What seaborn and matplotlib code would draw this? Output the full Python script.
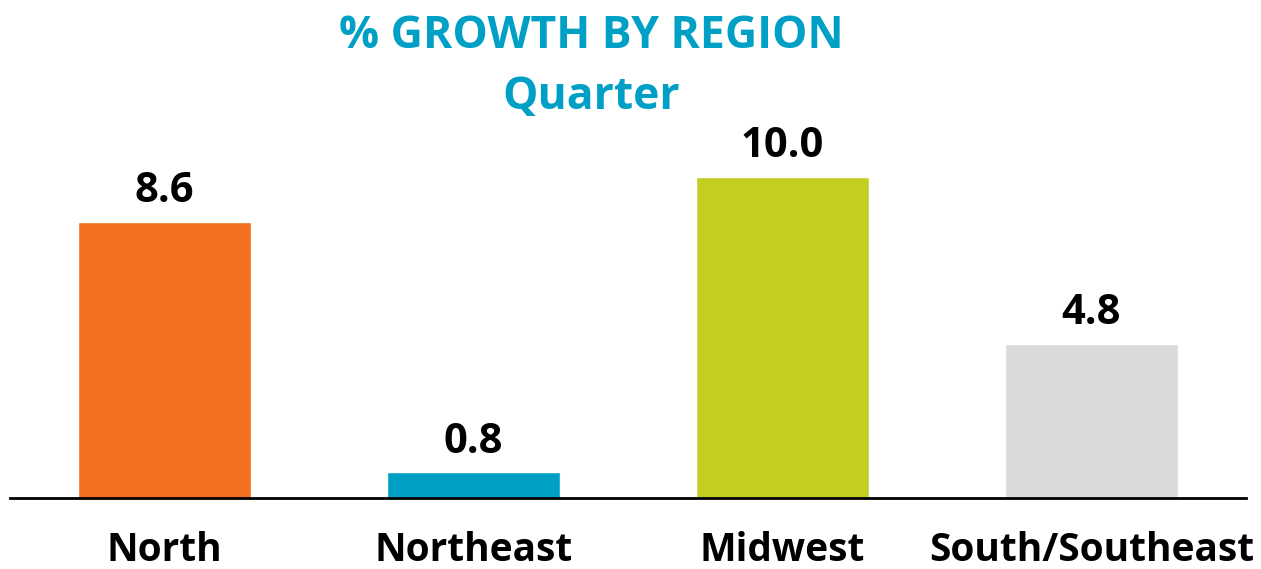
import matplotlib
matplotlib.use("Agg")
import matplotlib.pyplot as plt
import seaborn as sns
import pandas as pd

regions = ['North', 'Northeast', 'Midwest', 'South/Southeast']
growth = [8.6, 0.8, 10.0, 4.8]
bar_colors = ['#F37021', '#00A0C4', '#C2CF22', '#DADADA']
title_lines = ['% GROWTH BY REGION', 'Quarter']

sns.set_style('white')
plt.rcParams['font.family'] = ['Open Sans', 'DejaVu Sans']

df = pd.DataFrame({'region': regions, 'growth': growth})

fig = plt.figure(figsize=(12.61, 5.69), dpi=100)
ax = fig.add_axes([10 / 1261, 71 / 569, 1236 / 1261, 368 / 569])

sns.barplot(data=df, x='region', y='growth', hue='region', palette=bar_colors,
            width=0.557, legend=False, ax=ax, saturation=1)

for cont in ax.containers:
    ax.bar_label(cont, fmt='%.1f', padding=7, fontsize=30, fontweight='bold', color='black')

ax.set_xlim(-0.5, 3.5)
ax.set_ylim(0, 368 / 32.1)
ax.set_xlabel('')
ax.set_ylabel('')
ax.set_yticks([])
ax.tick_params(axis='x', length=0, pad=24, labelsize=28, labelcolor='black')
for lbl in ax.get_xticklabels():
    lbl.set_fontweight('bold')
for s in ['top', 'right', 'left']:
    ax.spines[s].set_visible(False)
ax.spines['bottom'].set_color('black')
ax.spines['bottom'].set_linewidth(2)

fig.text(591 / 1261, 1 - 37 / 569, title_lines[0], ha='center', va='center',
         fontsize=32, fontweight='bold', color='#00A0C6')
fig.text(591 / 1261, 1 - 97 / 569, title_lines[1], ha='center', va='center',
         fontsize=32, fontweight='bold', color='#00A0C6')

fig.savefig('out.png', dpi=100)
